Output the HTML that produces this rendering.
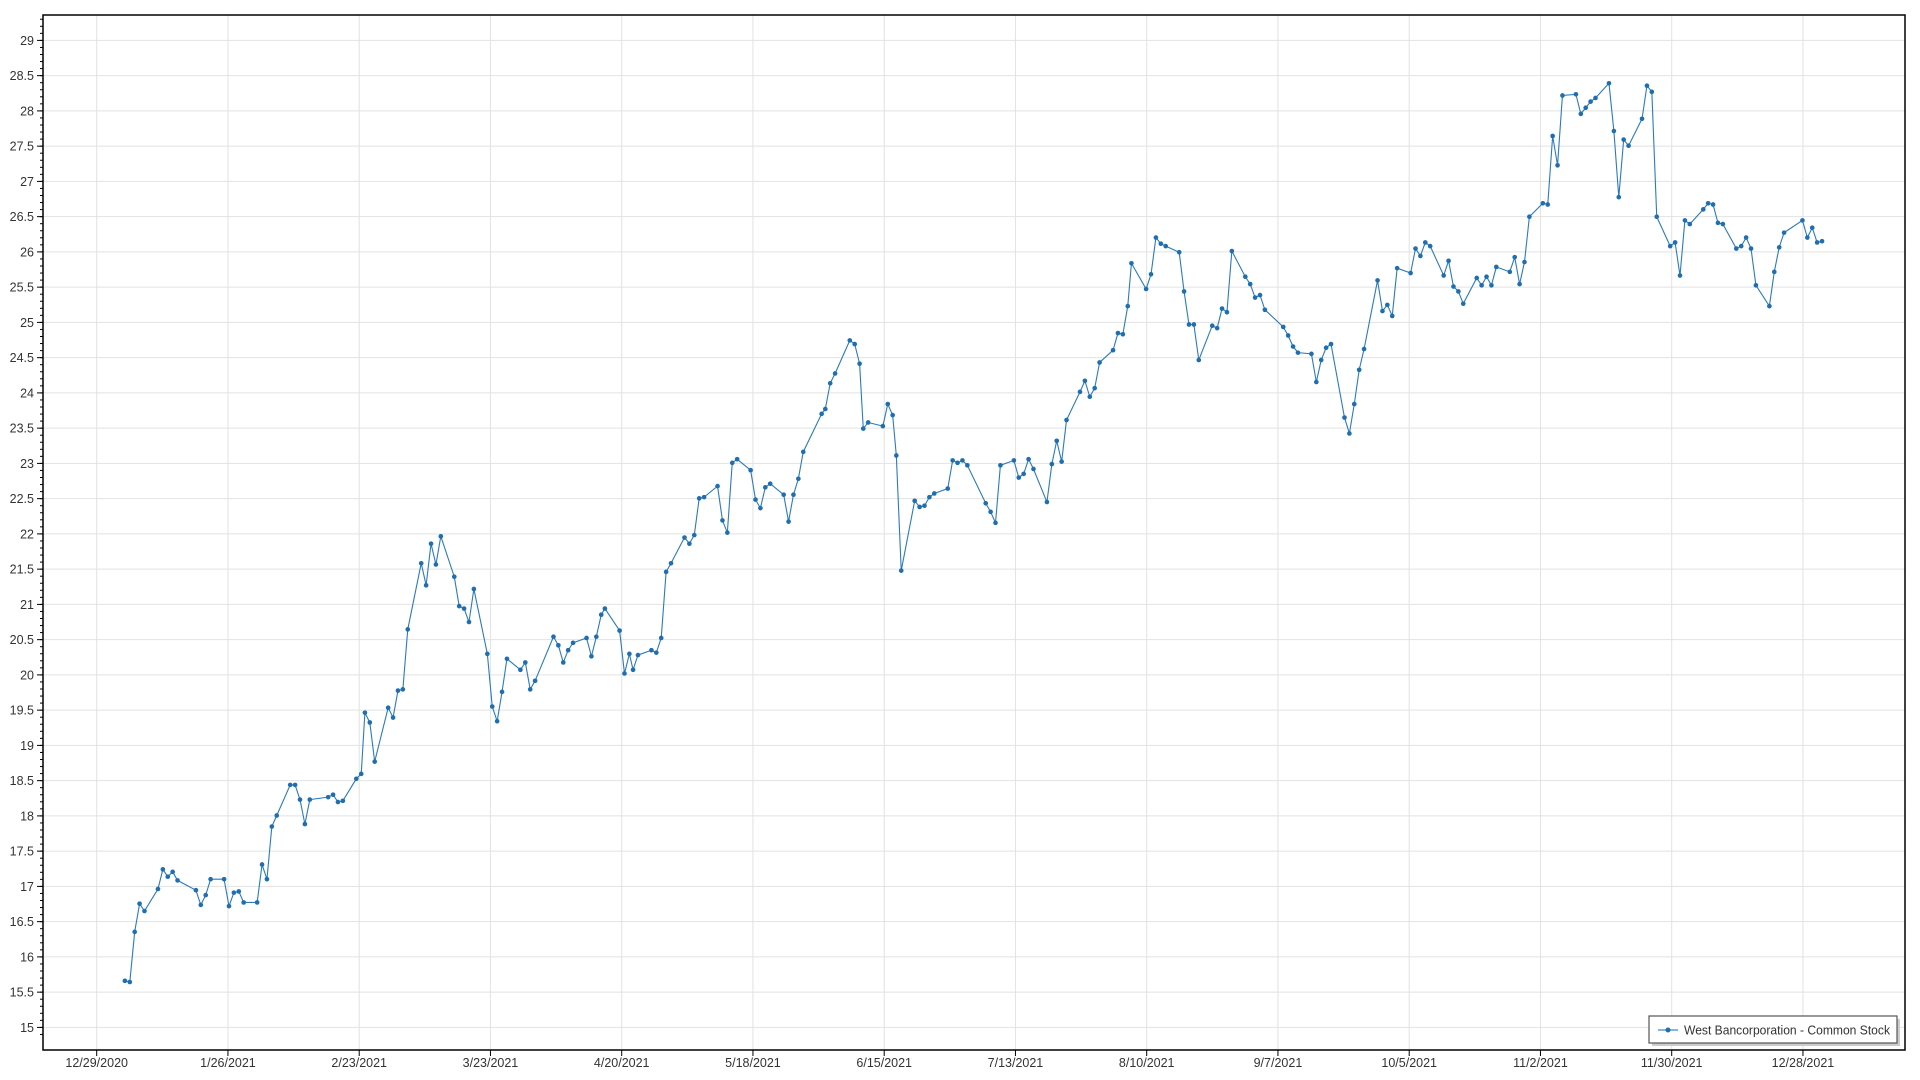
<!DOCTYPE html>
<html><head><meta charset="utf-8"><style>
html,body{margin:0;padding:0;background:#fff;width:1920px;height:1080px;overflow:hidden}
svg{display:block;font-family:"Segoe UI","Liberation Sans",sans-serif}
</style></head><body>
<svg id="s" width="1920" height="1080" viewBox="0 0 1920 1080" xmlns="http://www.w3.org/2000/svg">
<g id="grid"></g>
<rect x="43" y="15" width="1862" height="1035" fill="none" stroke="#000" stroke-width="1.5"/>
<g id="ticks"></g>
<g id="data" transform="scale(1.22449)"></g>
<rect x="1652" y="1019" width="248" height="27" fill="#ccc"/>
<rect x="1649" y="1016" width="248" height="27" fill="#fff" stroke="#555" stroke-width="1.2"/>
<line x1="1658" y1="1030" x2="1678" y2="1030" stroke="#5a9fd4" stroke-width="1.5"/>
<circle cx="1668" cy="1030" r="2.5" fill="#1f6fb0"/>
<text x="1684" y="1034.5" font-size="12.5" fill="#333" textLength="206" lengthAdjust="spacingAndGlyphs">West Bancorporation - Common Stock</text>
</svg>
<script>
var NS="http://www.w3.org/2000/svg";
function el(p,t,a,txt){var e=document.createElementNS(NS,t);for(var k in a)e.setAttribute(k,a[k]);if(txt)e.textContent=txt;p.appendChild(e);return e;}
var grid=document.getElementById('grid'),ticks=document.getElementById('ticks'),data=document.getElementById('data');
function Y(v){return 40.4+(29-v)*70.5;}
for(var v=15;v<=29.001;v+=0.5){var y=Y(v);
 el(grid,'line',{x1:43,x2:1905,y1:y,y2:y,stroke:'#e2e2e2','stroke-width':1});
 el(ticks,'line',{x1:37,x2:43,y1:y,y2:y,stroke:'#000'});
 el(ticks,'text',{x:34,y:y+4.5,'font-size':12.5,fill:'#333','text-anchor':'end'},(Math.round(v*10)/10).toString());}
for(var v=14.9;v<=29.4;v+=0.1){var y=Y(v);if(y<15||y>1050)continue;
 el(ticks,'line',{x1:40,x2:43,y1:y,y2:y,stroke:'#000'});}
var labs=["12/29/2020","1/26/2021","2/23/2021","3/23/2021","4/20/2021","5/18/2021","6/15/2021","7/13/2021","8/10/2021","9/7/2021","10/5/2021","11/2/2021","11/30/2021","12/28/2021"];
for(var i=0;i<labs.length;i++){var x=96.7+131.25*i;
 el(grid,'line',{x1:x,x2:x,y1:15,y2:1050,stroke:'#e2e2e2','stroke-width':1});
 el(ticks,'line',{x1:x,x2:x,y1:1050,y2:1056,stroke:'#000'});
 el(ticks,'text',{x:x,y:1067,'font-size':12.5,fill:'#333','text-anchor':'middle'},labs[i]);}
var P=[[102,801],[106,802],[110,761],[114,738],[118,744],[129,726],[133,710],[137,716],[141,712],[145,719],[160,727],[164,739],[168,731],[172,718],[183,718],[187,740],[191,729],[195,728],[199,737],[210,737],[214,706],[218,718],[222,675],[226,666],[237,641],[241,641],[245,653],[249,673],[253,653],[268,651],[272,649],[276,655],[280,654],[291,636],[295,632],[298,582],[302,590],[306,622],[317,578],[321,586],[325,564],[329,563],[333,514],[344,460],[348,478],[352,444],[356,461],[360,438],[371,471],[375,495],[379,497],[383,508],[387,481],[398,534],[402,577],[406,589],[410,565],[414,538],[425,547],[429,541],[433,563],[437,556],[452,520],[456,527],[460,541],[464,531],[468,525],[479,521],[483,536],[487,520],[491,502],[494,497],[506,515],[510,550],[514,534],[517,547],[521,535],[532,531],[536,533],[540,521],[544,467],[548,460],[559,439],[563,444],[567,437],[571,407],[575,406],[586,397],[590,425],[594,435],[598,378],[602,375],[613,384],[617,408],[621,415],[625,398],[629,395],[640,404],[644,426],[648,404],[652,391],[656,369],[671,338],[674,334],[678,313],[682,305],[694,278],[698,281],[702,297],[705,350],[709,345],[721,348],[725,330],[729,339],[732,372],[736,466],[747,409],[751,414],[755,413],[759,406],[763,403],[774,399],[778,376],[782,378],[786,376],[790,380],[805,411],[809,418],[813,427],[817,380],[828,376],[832,390],[836,387],[840,375],[844,383],[855,410],[859,379],[863,360],[867,377],[871,343],[882,320],[886,311],[890,324],[894,317],[898,296],[909,286],[913,272],[917,273],[921,250],[924,215],[936,236],[940,224],[944,194],[948,199],[952,201],[963,206],[967,238],[971,265],[975,265],[979,294],[990,266],[994,268],[998,252],[1002,255],[1006,205],[1017,226],[1021,232],[1025,243],[1029,241],[1033,253],[1048,267],[1052,274],[1056,283],[1060,288],[1071,289],[1075,312],[1079,294],[1083,284],[1087,281],[1098,341],[1102,354],[1106,330],[1110,302],[1114,285],[1125,229],[1129,254],[1133,249],[1137,258],[1141,219],[1152,223],[1156,203],[1160,209],[1164,198],[1168,201],[1179,225],[1183,213],[1187,234],[1191,238],[1195,248],[1206,227],[1210,233],[1214,226],[1218,233],[1222,218],[1233,222],[1237,210],[1241,232],[1245,214],[1249,177],[1260,166],[1264,167],[1268,111],[1272,135],[1276,78],[1287,77],[1291,93],[1295,88],[1299,83],[1303,80],[1314,68],[1318,107],[1322,161],[1326,114],[1330,119],[1341,97],[1345,70],[1349,75],[1353,177],[1364,201],[1368,198],[1372,225],[1376,180],[1380,183],[1391,171],[1395,166],[1399,167],[1403,182],[1407,183],[1418,203],[1422,201],[1426,194],[1430,203],[1434,233],[1445,250],[1449,222],[1453,202],[1457,190],[1472,180],[1476,194],[1480,186],[1484,198],[1488,197]];
el(data,'polyline',{points:P.map(function(p){return p.join(',')}).join(' '),fill:'none',stroke:'#2b7bba','stroke-width':0.9});
P.forEach(function(p){el(data,'circle',{cx:p[0],cy:p[1],r:1.9,fill:'#1f6fb0'});});
</script>
</body></html>
